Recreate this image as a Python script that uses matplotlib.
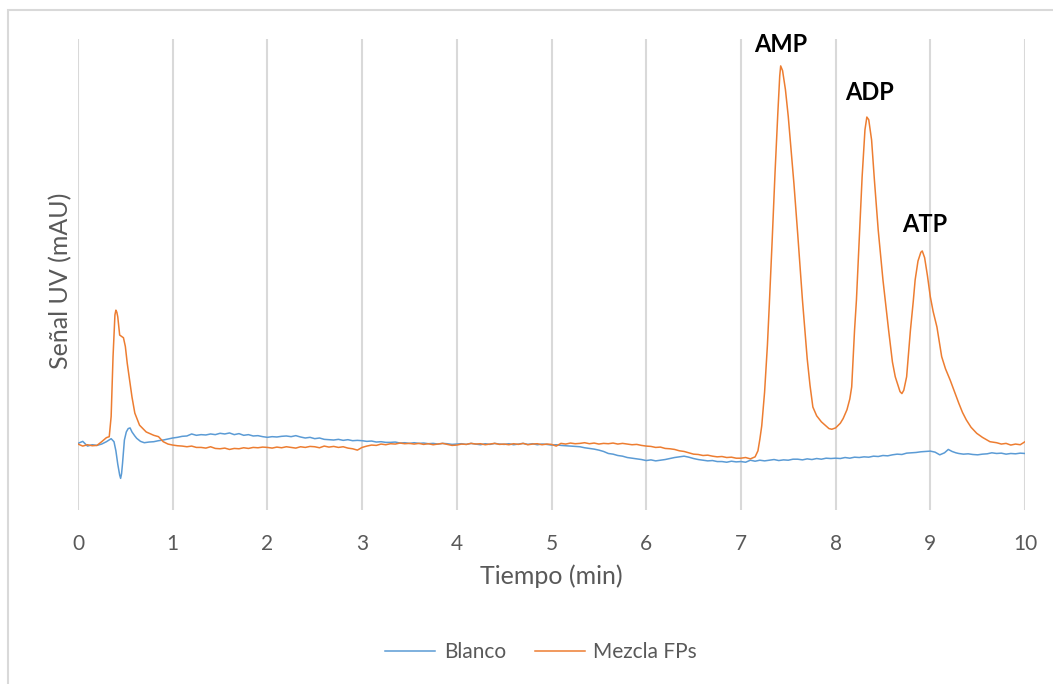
import matplotlib
matplotlib.use("Agg")
import matplotlib.pyplot as plt
from matplotlib.patches import Rectangle

plt.rcParams['font.family'] = ['Lato', 'DejaVu Sans']

# ---- data (time in min, signal in arbitrary mAU) ----
blanco = [
    (0.00, -0.1), (0.05, 0.2), (0.10, -0.5), (0.15, -0.3), (0.20, -0.4), (0.25, -0.2),
    (0.30, 0.15), (0.35, 0.6), (0.38, 0.15), (0.40, -1.2), (0.42, -3.2), (0.44, -4.8),
    (0.45, -5.3), (0.46, -4.6), (0.47, -3.1), (0.49, 0.4), (0.51, 1.6), (0.53, 2.1),
    (0.55, 2.2), (0.57, 1.6), (0.60, 1.0), (0.62, 0.65), (0.66, 0.2), (0.70, 0.0),
    (0.75, 0.1), (0.80, 0.15), (0.85, 0.3), (0.90, 0.4), (0.95, 0.55), (1.00, 0.7),
    (1.05, 0.8), (1.10, 0.95), (1.15, 1.0), (1.20, 1.3), (1.25, 1.1), (1.30, 1.2),
    (1.35, 1.15), (1.40, 1.3), (1.45, 1.2), (1.50, 1.4), (1.55, 1.3), (1.60, 1.45),
    (1.65, 1.2), (1.70, 1.35), (1.75, 1.1), (1.80, 1.2), (1.85, 1.0), (1.90, 1.05),
    (1.95, 0.9), (2.00, 0.8), (2.05, 0.9), (2.10, 0.85), (2.15, 0.95), (2.20, 1.0),
    (2.25, 0.9), (2.30, 1.05), (2.35, 0.85), (2.40, 0.7), (2.45, 0.8), (2.50, 0.6),
    (2.55, 0.7), (2.60, 0.5), (2.65, 0.45), (2.70, 0.4), (2.75, 0.5), (2.80, 0.35),
    (2.85, 0.45), (2.90, 0.3), (2.95, 0.35), (3.00, 0.3), (3.05, 0.2), (3.10, 0.25),
    (3.15, 0.1), (3.20, 0.15), (3.25, 0.05), (3.30, 0.05), (3.35, 0.1), (3.40, -0.05),
    (3.45, 0.0), (3.50, -0.1), (3.55, 0.0), (3.60, -0.1), (3.65, -0.05), (3.70, -0.15),
    (3.75, -0.1), (3.80, -0.2), (3.85, -0.1), (3.90, -0.15), (3.95, -0.25), (4.00, -0.2),
    (4.05, -0.15), (4.10, -0.25), (4.15, -0.1), (4.20, -0.2), (4.25, -0.3), (4.30, -0.15),
    (4.35, -0.25), (4.40, -0.1), (4.45, -0.2), (4.50, -0.25), (4.55, -0.15), (4.60, -0.3),
    (4.65, -0.2), (4.70, -0.1), (4.75, -0.25), (4.80, -0.15), (4.85, -0.3), (4.90, -0.2),
    (4.95, -0.25), (5.00, -0.35), (5.05, -0.3), (5.10, -0.4), (5.15, -0.45), (5.20, -0.5),
    (5.25, -0.55), (5.30, -0.6), (5.35, -0.75), (5.40, -0.85), (5.45, -0.95), (5.50, -1.1),
    (5.55, -1.3), (5.60, -1.6), (5.65, -1.7), (5.70, -1.9), (5.75, -2.0), (5.80, -2.2),
    (5.85, -2.3), (5.90, -2.4), (5.95, -2.5), (6.00, -2.65), (6.05, -2.55), (6.10, -2.7),
    (6.15, -2.6), (6.20, -2.5), (6.25, -2.35), (6.30, -2.2), (6.35, -2.1), (6.40, -2.0),
    (6.45, -2.15), (6.50, -2.35), (6.55, -2.5), (6.60, -2.6), (6.65, -2.7), (6.70, -2.65),
    (6.75, -2.8), (6.80, -2.8), (6.85, -2.9), (6.90, -2.75), (6.95, -2.85), (7.00, -2.8),
    (7.05, -2.9), (7.10, -2.6), (7.15, -2.75), (7.20, -2.6), (7.25, -2.7), (7.30, -2.6),
    (7.35, -2.5), (7.40, -2.65), (7.45, -2.55), (7.50, -2.6), (7.55, -2.45), (7.60, -2.45),
    (7.65, -2.55), (7.70, -2.4), (7.75, -2.5), (7.80, -2.35), (7.85, -2.45), (7.90, -2.3),
    (7.95, -2.35), (8.00, -2.3), (8.05, -2.35), (8.10, -2.2), (8.15, -2.3), (8.20, -2.15),
    (8.25, -2.2), (8.30, -2.1), (8.35, -2.15), (8.40, -2.0), (8.45, -2.05), (8.50, -1.9),
    (8.55, -1.95), (8.60, -1.8), (8.65, -1.7), (8.70, -1.75), (8.75, -1.55), (8.80, -1.5),
    (8.85, -1.45), (8.90, -1.35), (8.95, -1.3), (9.00, -1.25), (9.05, -1.4), (9.10, -1.8),
    (9.15, -1.5), (9.19, -1.0), (9.23, -1.3), (9.27, -1.5), (9.30, -1.6), (9.35, -1.7),
    (9.40, -1.65), (9.45, -1.75), (9.50, -1.8), (9.55, -1.7), (9.60, -1.65), (9.65, -1.5),
    (9.70, -1.6), (9.75, -1.55), (9.80, -1.7), (9.85, -1.6), (9.90, -1.65), (9.95, -1.55),
    (10.00, -1.6),
]

mezcla = [
    (0.00, -0.2), (0.05, -0.5), (0.10, -0.3), (0.15, -0.45), (0.20, -0.4), (0.25, 0.15),
    (0.30, 0.75), (0.33, 0.9), (0.35, 3.9), (0.37, 12.8), (0.39, 19.0), (0.40, 19.7),
    (0.41, 19.4), (0.42, 18.7), (0.44, 16.0), (0.46, 15.8), (0.48, 15.6), (0.50, 14.3),
    (0.52, 11.8), (0.54, 9.8), (0.57, 6.8), (0.60, 4.4), (0.65, 2.6), (0.72, 1.6),
    (0.80, 1.1), (0.85, 0.9), (0.90, 0.15), (0.95, -0.2), (1.00, -0.35), (1.05, -0.45),
    (1.10, -0.5), (1.15, -0.6), (1.20, -0.5), (1.25, -0.7), (1.30, -0.7), (1.35, -0.8),
    (1.40, -0.6), (1.45, -0.85), (1.50, -0.9), (1.55, -0.8), (1.60, -1.0), (1.65, -0.85),
    (1.70, -0.9), (1.75, -0.75), (1.80, -0.85), (1.85, -0.7), (1.90, -0.75), (1.95, -0.65),
    (2.00, -0.7), (2.05, -0.8), (2.10, -0.65), (2.15, -0.75), (2.20, -0.6), (2.25, -0.7),
    (2.30, -0.8), (2.35, -0.6), (2.40, -0.7), (2.45, -0.55), (2.50, -0.6), (2.55, -0.75),
    (2.60, -0.5), (2.65, -0.65), (2.70, -0.55), (2.75, -0.7), (2.80, -0.6), (2.85, -0.8),
    (2.90, -0.9), (2.95, -1.1), (3.00, -0.7), (3.05, -0.5), (3.10, -0.35), (3.15, -0.4),
    (3.20, -0.2), (3.25, -0.3), (3.30, -0.15), (3.35, -0.2), (3.40, -0.05), (3.45, -0.15),
    (3.50, -0.1), (3.55, -0.2), (3.60, -0.1), (3.65, -0.25), (3.70, -0.15), (3.75, -0.3),
    (3.80, -0.2), (3.85, -0.1), (3.90, -0.25), (3.95, -0.4), (4.00, -0.35), (4.05, -0.2),
    (4.10, -0.25), (4.15, -0.1), (4.20, -0.2), (4.25, -0.15), (4.30, -0.3), (4.35, -0.2),
    (4.40, -0.1), (4.45, -0.25), (4.50, -0.2), (4.55, -0.3), (4.60, -0.15), (4.65, -0.25),
    (4.70, -0.1), (4.75, -0.3), (4.80, -0.2), (4.85, -0.15), (4.90, -0.3), (4.95, -0.2),
    (5.00, -0.25), (5.05, -0.5), (5.10, -0.1), (5.15, -0.2), (5.20, -0.05), (5.25, -0.15),
    (5.30, -0.1), (5.35, 0.0), (5.40, -0.15), (5.45, -0.05), (5.50, -0.2), (5.55, -0.1),
    (5.60, -0.15), (5.65, -0.05), (5.70, -0.2), (5.75, -0.1), (5.80, -0.2), (5.85, -0.3),
    (5.90, -0.25), (5.95, -0.4), (6.00, -0.5), (6.05, -0.55), (6.10, -0.7), (6.15, -0.65),
    (6.20, -0.85), (6.25, -0.9), (6.30, -1.0), (6.35, -1.2), (6.40, -1.3), (6.45, -1.5),
    (6.50, -1.7), (6.55, -1.75), (6.60, -1.9), (6.65, -1.85), (6.70, -2.0), (6.75, -2.1),
    (6.80, -2.05), (6.85, -2.2), (6.90, -2.15), (6.95, -2.3), (7.00, -2.3), (7.05, -2.2),
    (7.10, -2.4), (7.15, -2.1), (7.18, -1.2), (7.20, 0.5), (7.22, 2.5), (7.25, 7.5),
    (7.28, 14.5), (7.30, 20.5), (7.33, 30.0), (7.36, 40.0), (7.39, 49.0), (7.41, 54.5),
    (7.42, 56.0), (7.44, 55.3), (7.47, 52.5), (7.50, 48.5), (7.53, 43.5), (7.56, 38.5),
    (7.60, 31.0), (7.65, 21.2), (7.70, 12.5), (7.73, 8.5), (7.76, 5.3), (7.80, 4.0),
    (7.85, 3.1), (7.89, 2.6), (7.93, 2.1), (7.96, 2.0), (8.00, 2.2), (8.05, 2.9),
    (8.08, 3.6), (8.12, 4.9), (8.15, 6.5), (8.17, 8.3), (8.20, 16.7), (8.22, 21.2),
    (8.25, 30.5), (8.28, 39.5), (8.31, 46.5), (8.33, 48.4), (8.35, 48.0), (8.38, 45.0),
    (8.41, 39.0), (8.45, 31.6), (8.50, 24.2), (8.56, 16.7), (8.60, 12.0), (8.63, 9.8),
    (8.68, 7.6), (8.70, 7.3), (8.72, 7.8), (8.75, 9.8), (8.79, 16.7), (8.82, 21.0),
    (8.84, 24.2), (8.87, 27.0), (8.90, 28.3), (8.915, 28.5), (8.94, 27.5), (8.97, 24.8),
    (9.00, 21.7), (9.03, 19.5), (9.07, 17.2), (9.12, 12.8), (9.16, 11.0), (9.21, 9.3),
    (9.25, 7.8), (9.30, 5.9), (9.34, 4.5), (9.38, 3.4), (9.43, 2.3), (9.49, 1.4),
    (9.55, 0.8), (9.63, 0.15), (9.70, 0.0), (9.75, -0.2), (9.80, -0.1), (9.85, -0.35),
    (9.90, -0.2), (9.95, -0.3), (10.00, 0.15),
]

peak_labels = ["AMP", "ADP", "ATP"]
peak_label_x = [7.42, 8.36, 8.94]
peak_label_y = [59.2, 52.1, 32.5]

x_ticks = list(range(0, 11))
series_names = ["Blanco", "Mezcla FPs"]

# ---- figure ----
W, H = 1053, 684
fig = plt.figure(figsize=(W / 100, H / 100), dpi=100)
fig.patch.set_facecolor("white")

# outer chart border (grey)
fig.add_artist(Rectangle((7.5 / W, -0.05), 1.1, 1 - 10 / H + 0.05,
                         transform=fig.transFigure, fill=False,
                         edgecolor="#D9D9D9", linewidth=1.5))

ax = fig.add_axes([78 / W, 1 - 510 / H, (1025 - 78) / W, (510 - 39) / H])

bt = [p[0] for p in blanco]
bv = [p[1] for p in blanco]
mt = [p[0] for p in mezcla]
mv = [p[1] for p in mezcla]

ax.plot(bt, bv, color="#5B9BD5", linewidth=1.1, label=series_names[0], zorder=3)
ax.plot(mt, mv, color="#ED7D31", linewidth=1.1, label=series_names[1], zorder=4)

ax.set_xlim(0, 10)
ax.set_ylim(-10, 60)
ax.set_xticks(x_ticks)
ax.set_xticklabels([str(t) for t in x_ticks])
ax.set_yticks([])
ax.grid(axis="x", color="#D9D9D9", linewidth=1.5, zorder=0)
for s in ax.spines.values():
    s.set_visible(False)
ax.tick_params(axis="x", length=0, pad=17, labelsize=15, labelcolor="#595959")

ax.set_xlabel("Tiempo (min)", fontsize=18, color="#595959", labelpad=8)
ax.set_ylabel("Señal UV (mAU)", fontsize=18, color="#595959")
ax.yaxis.set_label_coords(-0.006, 0.486)

for lab, lx, ly in zip(peak_labels, peak_label_x, peak_label_y):
    ax.text(lx, ly, lab, fontsize=17, fontweight="bold", color="black",
            ha="center", va="center", clip_on=False)

fig.legend(loc="center", bbox_to_anchor=(0.514, 1 - 652 / H), ncol=2,
           frameon=False, fontsize=15, handlelength=2.4, handletextpad=0.4,
           columnspacing=1.4, labelcolor="#595959")

fig.savefig("out.png", dpi=100)
